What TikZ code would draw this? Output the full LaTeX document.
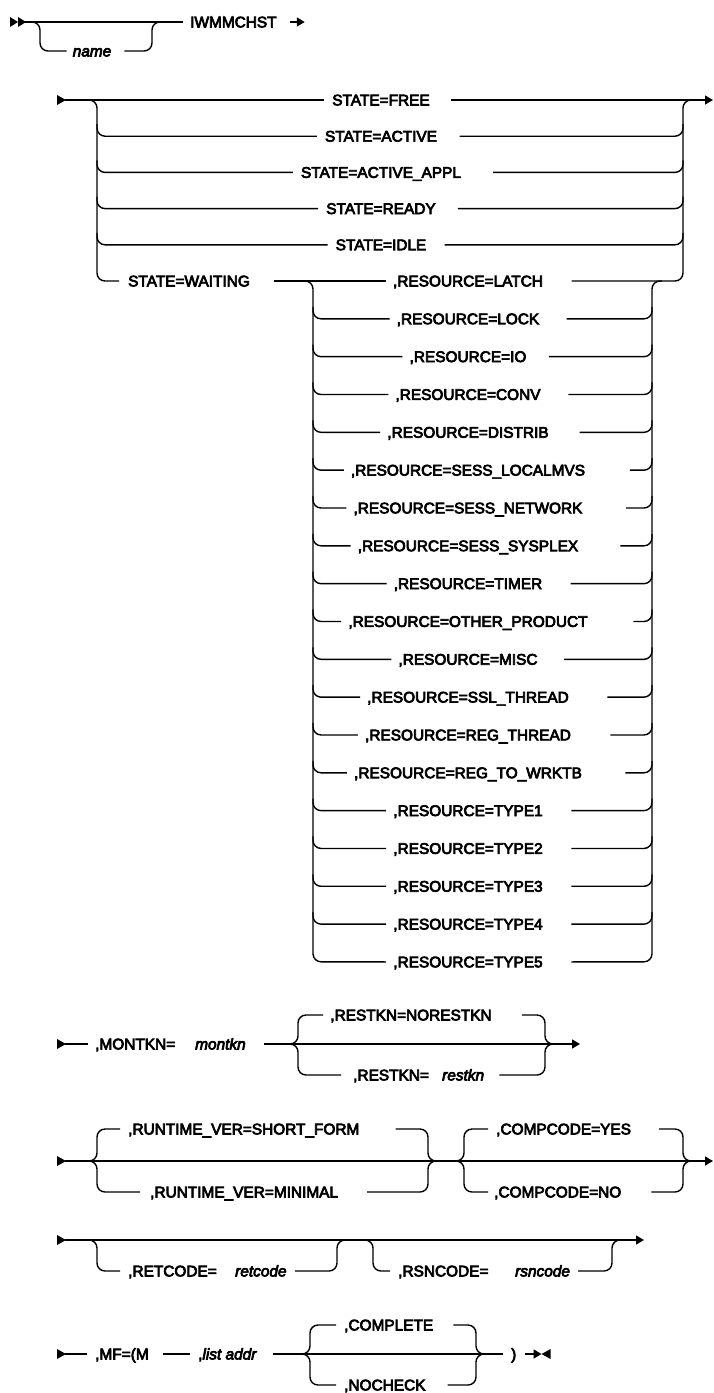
\documentclass[tikz,border=0pt]{standalone}
\usepackage{fontspec}
\setmainfont{Liberation Sans}[FakeBold=4.5]
\usetikzlibrary{arrows.meta,calc}
\tikzset{
  rail/.style={line width=1.4pt, rounded corners=8pt},
  kw/.style={inner sep=0pt, text height=10.8pt, text depth=0pt, font=\fontsize{15.4}{18}\selectfont, anchor=west},
  kwc/.style={kw, anchor=center},
  var/.style={kw, font=\fontsize{15.4}{18}\selectfont\itshape},
  tip/.style={-{Triangle[length=8pt,width=9pt]}},
}
\newcommand{\startmark}[1]{\fill ($(#1)+(0,-5)$) -- ($(#1)+(9,0)$) -- ($(#1)+(0,5)$) -- cycle;}
\begin{document}
\begin{tikzpicture}[x=1pt,y=-1pt]
\useasboundingbox (0,0) rectangle (714,1393);

% ---------- line 1 ----------
\coordinate (s1) at (10,22);
\fill ($(s1)+(0,-5)$) -- ($(s1)+(8,0)$) -- ($(s1)+(0,5)$) -- cycle;
\fill ($(s1)+(8,-5)$) -- ($(s1)+(16,0)$) -- ($(s1)+(8,5)$) -- cycle;
\node[kw] (iw) at (190,22) {IWMMCHST};
\node[var, anchor=center] (nm) at (92,51) {name};
\draw[rail] (25,22) -- ($(iw.west)+(-7,0)$);
\draw[rail] (32,22) -- (40,22) -- (40,51) -- ($(nm.west)+(-6,0)$);
\draw[rail] ($(nm.east)+(13,0)$) -- (152,51) -- (152,22) -- (160,22);
\draw[line width=1.4pt, tip] ($(iw.east)+(13,0)$) -- ($(iw.east)+(28,0)$);

% ---------- STATE block ----------
\coordinate (s2) at (57,100);
\startmark{s2}
\foreach \lbl [count=\i from 0, evaluate=\i as \yy using 100+36.2*\i] in {FREE,ACTIVE,ACTIVE\_APPL,READY,IDLE} {
  \node[kwc] (st\i) at (381,\yy) {STATE=\lbl};
}
\node[kw] (stw) at (128,281) {STATE=WAITING};
\draw[rail] ($(s2)+(8,0)$) -- ($(st0.west)+(-8,0)$);
\draw[rail, tip] let \p1=(st0.west), \p2=(st0.east) in (\x2+0.22*\x2-0.22*\x1,\y2) -- (713,100);
\draw[rail] (89,100) -- (97,100) -- (97,281) -- ($(stw.west)+(-9,0)$);
\foreach \i [evaluate=\i as \yy using 100+36.2*\i] in {1,...,4} {
  \draw[rail] (97,\yy-12) -- (97,\yy) -- ($(st\i.west)+(-8,0)$);
  \draw[rail] let \p1=(st\i.west), \p2=(st\i.east) in (\x2+0.2*\x2-0.2*\x1,\y2) -- (683,\yy) -- (683,\yy-12);
}

% ---------- RESOURCE block ----------
\foreach \lbl [count=\j from 0, evaluate=\j as \yy using 281+37.83*\j] in
  {LATCH,LOCK,IO,CONV,DISTRIB,SESS\_LOCALMVS,SESS\_NETWORK,SESS\_SYSPLEX,TIMER,OTHER\_PRODUCT,MISC,SSL\_THREAD,REG\_THREAD,REG\_TO\_WRKTB,TYPE1,TYPE2,TYPE3,TYPE4,TYPE5} {
  \node[kwc] (r\j) at (468,\yy) {,RESOURCE=\lbl};
}
\draw[rail] ($(stw.east)+(24,0)$) -- ($(r0.west)+(-7,0)$);
\draw[rail] (303,281) -- (313,281) -- (313,961.8) -- ($(r18.west)+(-7,0)$);
\draw[rail] let \p1=(r0.west), \p2=(r0.east) in (\x2+0.19*\x2-0.19*\x1,\y2) -- (683,281) -- (683,100) -- (693,100);
\draw[rail] let \p1=(r18.west), \p2=(r18.east) in (\x2+0.19*\x2-0.19*\x1,\y2) -- (652,961.8) -- (652,281) -- (662,281);
\foreach \j [evaluate=\j as \yy using 281+37.83*\j] in {1,...,17} {
  \draw[rail] (313,\yy-12) -- (313,\yy) -- ($(r\j.west)+(-7,0)$);
  \draw[rail] let \p1=(r\j.west), \p2=(r\j.east) in (\x2+0.19*\x2-0.19*\x1,\y2) -- (652,\yy) -- (652,\yy-12);
}

% ---------- MONTKN line ----------
\coordinate (s3) at (57,1044);
\startmark{s3}
\node[kw] (mk) at (95,1044) {,MONTKN=};
\node[var] (mkv) at (195,1044) {montkn};
\node[kwc] (rk1) at (411,1015) {,RESTKN=NORESTKN};
\node[kw] (rk2) at (353,1075) {,RESTKN=};
\node[var] (rk2v) at (442,1075) {restkn};
\draw[rail] ($(s3)+(8,0)$) -- ($(mk.west)+(-7,0)$);
\draw[rail, tip] ($(mkv.east)+(18,0)$) -- (580,1044);
\draw[rail] (288,1044) -- (298,1044) -- (298,1015) -- ($(rk1.west)+(-7,0)$);
\draw[rail] (288,1044) -- (298,1044) -- (298,1075) -- ($(rk2.west)+(-12,0)$);
\draw[rail] ($(rk1.east)+(30,0)$) -- (545,1015) -- (545,1044) -- (555,1044);
\draw[rail] ($(rk2v.east)+(15,0)$) -- (545,1075) -- (545,1044) -- (555,1044);

% ---------- RUNTIME / COMPCODE line ----------
\coordinate (s4) at (57,1161);
\startmark{s4}
\node[kw] (rv1) at (128,1129) {,RUNTIME\_VER=SHORT\_FORM};
\node[kw] (rv2) at (150,1192) {,RUNTIME\_VER=MINIMAL};
\node[kw] (cc1) at (496,1129) {,COMPCODE=YES};
\node[kw] (cc2) at (494,1192) {,COMPCODE=NO};
\draw[rail, tip] ($(s4)+(8,0)$) -- (713,1161);
\draw[rail] (87,1161) -- (97,1161) -- (97,1129) -- ($(rv1.west)+(-8,0)$);
\draw[rail] (87,1161) -- (97,1161) -- (97,1192) -- ($(rv2.west)+(-10,0)$);
\draw[rail] ($(rv1.east)+(36,0)$) -- (428,1129) -- (428,1161) -- (438,1161);
\draw[rail] ($(rv2.east)+(29,0)$) -- (428,1192) -- (428,1161) -- (438,1161);
\draw[rail] (454,1161) -- (464,1161) -- (464,1129) -- ($(cc1.west)+(-8,0)$);
\draw[rail] (454,1161) -- (464,1161) -- (464,1192) -- ($(cc2.west)+(-6,0)$);
\draw[rail] ($(cc1.east)+(28,0)$) -- (683,1129) -- (683,1161) -- (693,1161);
\draw[rail] ($(cc2.east)+(30,0)$) -- (683,1192) -- (683,1161) -- (693,1161);

% ---------- RETCODE / RSNCODE line ----------
\coordinate (s5) at (57,1240);
\startmark{s5}
\node[kw] (rc) at (128,1271) {,RETCODE=};
\node[var] (rcv) at (235,1271) {retcode};
\node[kw] (rs) at (398,1271) {,RSNCODE=};
\node[var] (rsv) at (515,1271) {rsncode};
\draw[rail, tip] ($(s5)+(8,0)$) -- (644,1240);
\draw[rail] (87,1240) -- (97,1240) -- (97,1271) -- ($(rc.west)+(-8,0)$);
\draw[rail] ($(rcv.east)+(8,0)$) -- (337,1271) -- (337,1240) -- (347,1240);
\draw[rail] (363,1240) -- (373,1240) -- (373,1271) -- ($(rs.west)+(-8,0)$);
\draw[rail] ($(rsv.east)+(8,0)$) -- (612,1271) -- (612,1240) -- (622,1240);

% ---------- MF line ----------
\coordinate (s6) at (57,1354);
\startmark{s6}
\node[kw] (mf) at (95,1354) {,MF=(M};
\node[kw] (la) at (198,1354) {,\textit{list addr}};
\node[kw] (co) at (344,1325) {,COMPLETE};
\node[kw] (nc) at (344,1385) {,NOCHECK};
\node[kw] (cp) at (511,1354) {)};
\draw[rail] ($(s6)+(8,0)$) -- ($(mf.west)+(-8,0)$);
\draw[rail] ($(mf.east)+(14,0)$) -- ($(la.west)+(-8,0)$);
\draw[rail] ($(la.east)+(16,0)$) -- ($(cp.west)+(-8,0)$);
\draw[rail] (300,1354) -- (310,1354) -- (310,1325) -- ($(co.west)+(-8,0)$);
\draw[rail] (300,1354) -- (310,1354) -- (310,1385) -- ($(nc.west)+(-8,0)$);
\draw[rail] ($(co.east)+(20,0)$) -- (476,1325) -- (476,1354) -- (486,1354);
\draw[rail] ($(nc.east)+(22,0)$) -- (476,1385) -- (476,1354) -- (486,1354);
\coordinate (e6) at ($(cp.east)+(25,0)$);
\draw[line width=1.4pt, tip] ($(cp.east)+(8,0)$) -- (e6);
\fill (e6) -- ($(e6)+(9,-5)$) -- ($(e6)+(9,5)$) -- cycle;
\end{tikzpicture}
\end{document}
